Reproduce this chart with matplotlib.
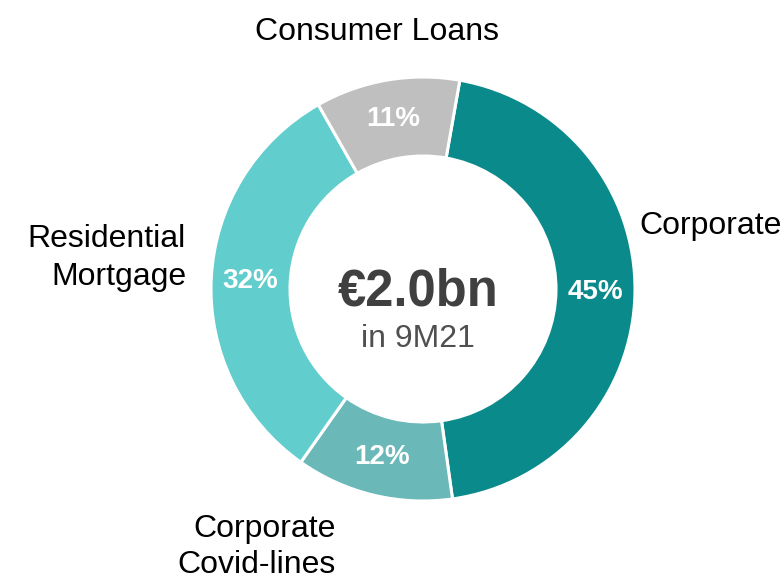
import matplotlib
matplotlib.use("Agg")
import matplotlib.pyplot as plt

plt.rcParams['font.family'] = ['Liberation Sans', 'DejaVu Sans']

categories = ["Corporate", "Corporate Covid-lines", "Residential Mortgage", "Consumer Loans"]
shares = [45, 12, 32, 11]
colors = ["#0A8A8A", "#6AB8B8", "#62CDCD", "#BFBFBF"]
total_label = "€2.0bn"
period_label = "in 9M21"

W, H = 782, 584
fig = plt.figure(figsize=(W / 100, H / 100), dpi=100)
ax = fig.add_axes([0, 0, 1, 1])

cx, cy = 423, H - 289
R_out, R_in = 212, 133

wedges, texts, autotexts = ax.pie(
    shares, colors=colors, startangle=80, counterclock=False,
    center=(cx, cy), radius=R_out,
    wedgeprops=dict(width=R_out - R_in, edgecolor="white", linewidth=2.2),
    autopct=lambda p: f"{p:.0f}%", pctdistance=(R_out + R_in) / 2 / R_out,
    textprops=dict(color="white", fontsize=20, fontweight="bold"),
)
ax.set_xlim(0, W)
ax.set_ylim(0, H)
ax.set_aspect("equal")
ax.axis("off")

# centre text
ax.text(418, H - 306, total_label, ha="center", va="baseline",
        fontsize=36.5, fontweight="bold", color="#404040")
ax.text(418, H - 347, period_label, ha="center", va="baseline",
        fontsize=23, color="#505050")

# category labels
lab = dict(fontsize=23, color="black", va="baseline")
ax.text(377, H - 40, "Consumer Loans", ha="center", **lab)
ax.text(639, H - 234, "Corporate", ha="left", **lab)
ax.text(186, H - 247, "Residential", ha="right", **lab)
ax.text(186, H - 285, "Mortgage", ha="right", **lab)
ax.text(336, H - 537, "Corporate", ha="right", **lab)
ax.text(336, H - 573, "Covid-lines", ha="right", **lab)

fig.savefig("out.png", dpi=100)
